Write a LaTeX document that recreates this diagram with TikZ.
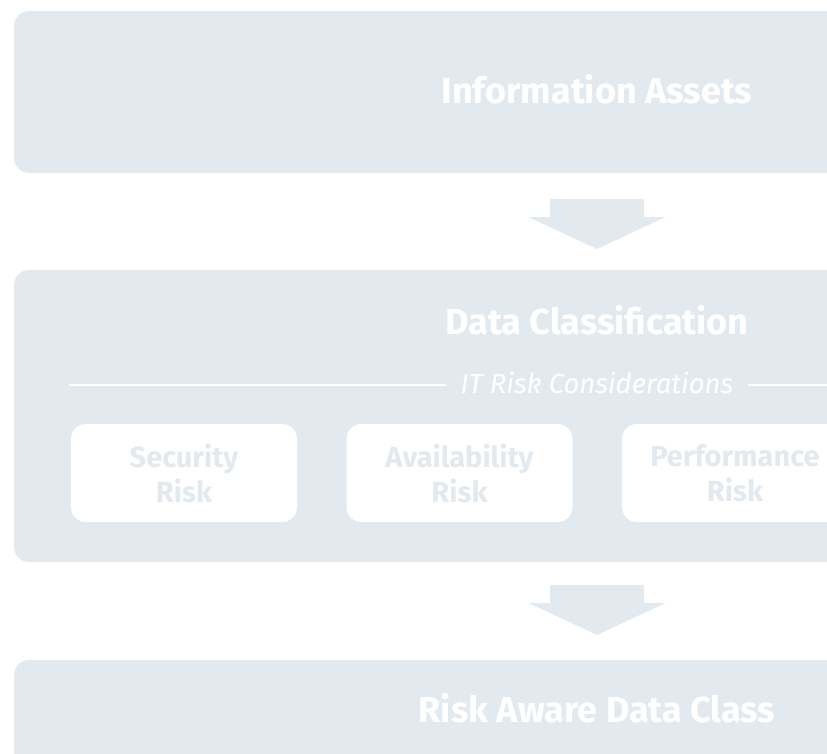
\documentclass[tikz,border=0pt]{standalone}
\usepackage{fontspec}
\setmainfont{Fira Sans}
\usetikzlibrary{calc}
\definecolor{panelbg}{HTML}{E2EAF0}

\begin{document}
\begin{tikzpicture}[x=1pt, y=-1pt,
  panel/.style={fill=panelbg, rounded corners=15pt, minimum width=1166pt, inner sep=0pt},
  title/.style={anchor=base, text=white, font=\fontsize{36}{40}\selectfont\bfseries},
  riskbox/.style={fill=white, rounded corners=15pt, minimum width=226pt, minimum height=98pt,
    inner sep=0pt, align=center, text=panelbg, font=\fontsize{29}{35}\selectfont\bfseries},
  sepline/.style={draw=white, line width=1.5pt},
  flow/.style={fill=panelbg}]
  \useasboundingbox (0,0) rectangle (827,753);
  \clip (0,0) rectangle (827,753);

  % --- the three stages ---
  \node[panel, minimum height=162pt] (info) at (597,92) {};
  \node[panel, minimum height=292pt] (class) at (597,416) {};
  \node[panel, minimum height=160pt] (aware) at (597,740) {};

  \node[title] (infot) at (597,103) {Information Assets};
  \node[title] (classt) at (597,334) {Data Classification};
  \node[title] (awaret) at (597,722) {Risk Aware Data Class};

  % --- block arrows between stages ---
  \foreach \a/\b/\d in {info/class/2.5, class/aware/-1} {
    \coordinate (m) at ($(\a.south)!0.5!(\b.north)+(0,\d)$);
    \fill[flow] ($(m)+(-47,-25)$) -- ($(m)+(47,-25)$) -- ($(m)+(47,-7)$)
      -- ($(m)+(68.5,-7)$) -- ($(m)+(0,25)$) -- ($(m)+(-68.5,-7)$)
      -- ($(m)+(-47,-7)$) -- cycle;
  }

  % --- IT risk separator ---
  \node[anchor=base, inner xsep=14pt, text=white, font=\fontsize{27.5}{30}\selectfont\itshape]
    (itrisk) at (597,393) {IT Risk Considerations};
  \coordinate (sepL) at (69,385);
  \coordinate (sepR) at (1125,385);
  \draw[sepline] (sepL) -- (sepL -| itrisk.west);
  \draw[sepline] (itrisk.east |- sepR) -- (sepR);

  % --- risk boxes ---
  \foreach \x/\name/\txt in {184/sec/Security, 459.5/avail/Availability, 735/perf/Performance} {
    \node[riskbox] (\name) at (\x,473) {\txt\\Risk};
  }
\end{tikzpicture}
\end{document}
